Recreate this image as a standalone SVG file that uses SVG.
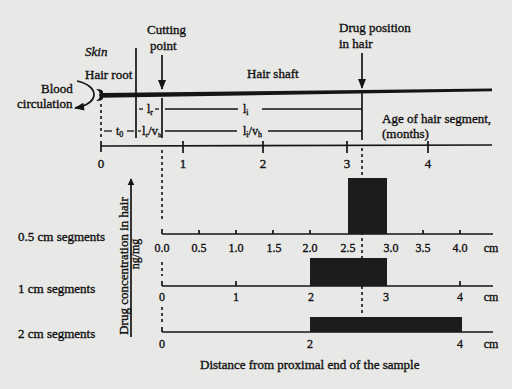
<svg xmlns="http://www.w3.org/2000/svg" width="512" height="389" viewBox="0 0 512 389">
<defs>
<style>
text{font-family:"Liberation Serif","Times New Roman",serif;font-size:13px;fill:#111;stroke:#111;stroke-width:0.35}
.s{font-size:12px}
.m{text-anchor:middle}
.ln{stroke:#151515;stroke-width:1.7;fill:none}
.th{stroke:#151515;stroke-width:1.3;fill:none}
.dot{stroke:#151515;stroke-width:1.6;stroke-dasharray:3,3;fill:none}
.bar{fill:#1c1c1c}
</style>
<marker id="ah" viewBox="0 0 10 10" refX="9" refY="5" markerWidth="7" markerHeight="8" orient="auto" markerUnits="userSpaceOnUse">
<path d="M0,0 L10,5 L0,10 z" fill="#151515"/>
</marker>
<marker id="ah2" viewBox="0 0 10 10" refX="9" refY="5" markerWidth="11" markerHeight="10" orient="auto" markerUnits="userSpaceOnUse">
<path d="M0,1 L10,5 L0,9 z" fill="#151515"/>
</marker>
</defs>
<rect width="512" height="389" fill="#e8e8e6"/>

<g id="hair">
<path d="M101,93 L492,88.6 L492,91.2 L101,97.8 z" fill="#151515"/>
<path d="M96,89 Q104,89 103,93 Q99,95 103,97 Q104,101 96,101 Q101,98 99,95 Q101,92 96,89 z" fill="#151515"/>
</g>

<g id="labels-top">
<text x="147" y="34">Cutting</text>
<text x="150" y="50">point</text>
<text x="85" y="56" font-style="italic">Skin</text>
<text x="85" y="79">Hair root</text>
<text x="41" y="93">Blood</text>
<text x="17" y="108">circulation</text>
<text x="247" y="78">Hair shaft</text>
<text x="339" y="32">Drug position</text>
<text x="339" y="48">in hair</text>
<text x="382" y="123">Age of hair segment,</text>
<text x="382" y="138">(months)</text>
</g>

<g id="connectors">
<line class="ln" x1="162" y1="55" x2="162" y2="89" marker-end="url(#ah2)"/>
<line class="ln" x1="362" y1="53" x2="362" y2="88" marker-end="url(#ah2)"/>
<path class="ln" d="M77,81 C100,86 100,104 75,108" marker-end="url(#ah2)"/>
<line class="ln" x1="136" y1="48" x2="136" y2="138"/>
<line class="ln" x1="162" y1="98" x2="162" y2="138"/>
<line class="ln" x1="362" y1="92" x2="362" y2="140"/>
<line class="dot" x1="101" y1="104" x2="101" y2="138" stroke-dasharray="2,2"/>
<line class="dot" x1="162" y1="150" x2="162" y2="222"/>
<line class="dot" x1="162" y1="262" x2="162" y2="276"/>
<line class="dot" x1="162" y1="307" x2="162" y2="322"/>
<line class="dot" x1="362" y1="148" x2="362" y2="315"/>
<line class="ln" x1="131" y1="337" x2="131" y2="179" marker-end="url(#ah)"/>
</g>

<g id="brackets">
<line class="th" x1="139" y1="109" x2="143" y2="109"/>
<text class="s" x="147" y="113">l<tspan font-size="8" dy="2">r</tspan></text>
<line class="th" x1="155" y1="109" x2="159" y2="109"/>
<line class="th" x1="165" y1="109" x2="238" y2="109"/>
<text class="s" x="243" y="113">l<tspan font-size="8" dy="2">i</tspan></text>
<line class="th" x1="262" y1="109" x2="362" y2="109"/>
<line class="th" x1="104" y1="131" x2="112" y2="131"/>
<text class="s" x="116" y="135">t<tspan font-size="8" dy="2">0</tspan></text>
<line class="th" x1="127" y1="131" x2="134" y2="131"/>
<line class="th" x1="138" y1="131" x2="141" y2="131"/>
<text x="142" y="135" font-size="10">l<tspan font-size="7" dy="2">r</tspan><tspan dy="-2">/v</tspan><tspan font-size="7" dy="2">h</tspan></text>
<line class="th" x1="165" y1="131" x2="237" y2="131"/>
<text class="s" x="243" y="135">l<tspan font-size="8" dy="2">i</tspan><tspan dy="-2">/v</tspan><tspan font-size="8" dy="2">h</tspan></text>
<line class="th" x1="268" y1="131" x2="362" y2="131"/>
</g>

<g id="age-axis">
<line class="ln" x1="101" y1="146" x2="492" y2="145"/>
<path class="ln" d="M101,141V152 M183,141V153 M263,141V153 M347,141V153 M428,141V153"/>
<text class="m" x="101" y="168">0</text>
<text class="m" x="183" y="168">1</text>
<text class="m" x="263" y="168">2</text>
<text class="m" x="347" y="168">3</text>
<text class="m" x="428" y="168">4</text>
</g>

<g id="y-axis-label">
<text class="m" transform="translate(128,266) rotate(-90)">Drug concentration in hair</text>
<text class="m s" transform="translate(139,254) rotate(-90)">ng/mg</text>
</g>

<g id="seg-05">
<text x="18" y="241">0.5 cm segments</text>
<line class="ln" x1="162" y1="234" x2="493" y2="234"/>
<path class="ln" d="M162,229V234 M199,230V234 M236,230V234 M273,230V234 M310,230V234 M423,230V234 M460,230V234"/>
<rect class="bar" x="348" y="178" width="39" height="56"/>
<text class="m s" x="162" y="252">0.0</text>
<text class="m s" x="199" y="252">0.5</text>
<text class="m s" x="236" y="252">1.0</text>
<text class="m s" x="274" y="252">1.5</text>
<text class="m s" x="310" y="252">2.0</text>
<text class="m s" x="348" y="252">2.5</text>
<text class="m s" x="391" y="252">3.0</text>
<text class="m s" x="423" y="252">3.5</text>
<text class="m s" x="460" y="252">4.0</text>
<text class="m s" x="491" y="252">cm</text>
</g>

<g id="seg-1">
<text x="18" y="293">1 cm segments</text>
<line class="ln" x1="162" y1="286" x2="493" y2="286"/>
<path class="ln" d="M162,281V286 M236,281V286 M460,281V286"/>
<rect class="bar" x="310" y="258" width="77" height="28"/>
<text class="m s" x="162" y="301">0</text>
<text class="m s" x="236" y="301">1</text>
<text class="m s" x="311" y="301">2</text>
<text class="m s" x="386" y="301">3</text>
<text class="m s" x="460" y="301">4</text>
<text class="m s" x="491" y="301">cm</text>
</g>

<g id="seg-2">
<text x="18" y="338">2 cm segments</text>
<line class="ln" x1="162" y1="332" x2="493" y2="332"/>
<path class="ln" d="M162,327V332"/>
<rect class="bar" x="310" y="317" width="152" height="15"/>
<text class="m s" x="162" y="348">0</text>
<text class="m s" x="310" y="348">2</text>
<text class="m s" x="460" y="348">4</text>
<text class="m s" x="491" y="348">cm</text>
</g>

<text x="200" y="369">Distance  from proximal end of the sample</text>
</svg>
